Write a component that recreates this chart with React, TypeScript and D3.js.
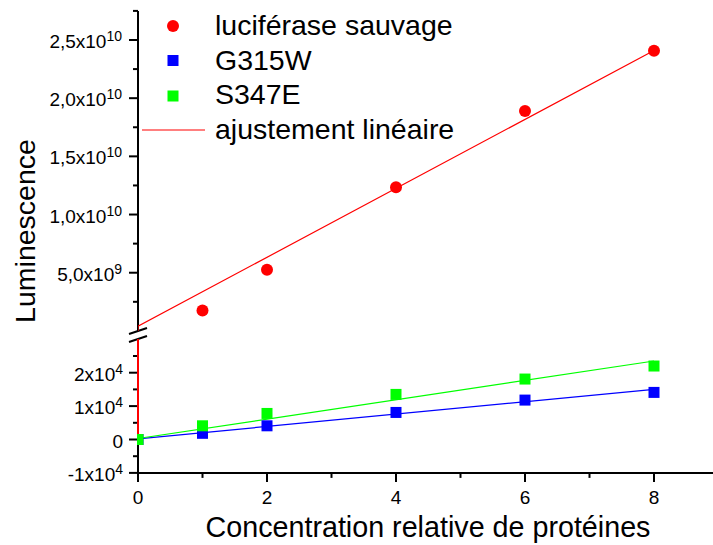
import React from "react";
import * as d3 from "d3";

// ---- data ----
const conc = [1, 2, 4, 6, 8];
const sauvage = [1.75e9, 5.26e9, 1.235e10, 1.89e10, 2.408e10];
const concMut = [0, 1, 2, 4, 6, 8];
const g315w = [0, 0.185e4, 0.41e4, 0.81e4, 1.18e4, 1.41e4];
const s347e = [0, 0.41e4, 0.78e4, 1.35e4, 1.81e4, 2.2e4];
// linear fits (endpoints)
const fitXRed = [0, 0, 8];
const fitRed = [0, 0.4e9, 2.41e10];
const fitX = [0, 8];
const fitBlue = [0.02e4, 1.5e4];
const fitGreen = [0.03e4, 2.35e4];

const xMajor = [0, 2, 4, 6, 8];
const xMinor = [1, 3, 5, 7, 9];
const upMajor = [5e9, 1e10, 1.5e10, 2e10, 2.5e10];
const upLabels = [["5,0x10", "9"], ["1,0x10", "10"], ["1,5x10", "10"], ["2,0x10", "10"], ["2,5x10", "10"]];
const upMinor = [2.5e9, 7.5e9, 1.25e10, 1.75e10, 2.25e10, 2.75e10];
const lowMajor = [-1e4, 0, 1e4, 2e4];
const lowLabels = [["-1x10", "4"], ["0", ""], ["1x10", "4"], ["2x10", "4"]];
const lowMinor = [-0.5e4, 0.5e4, 1.5e4, 2.5e4];

const legendItems = ["luciférase sauvage", "G315W", "S347E", "ajustement linéaire"];

const RED = "#ff0000";
const BLUE = "#0000ff";
const GREEN = "#00ff00";
const FONT = "'Liberation Sans', Arial, Helvetica, sans-serif";

export default function App() {
  const W = 713, H = 545;
  const x = d3.scaleLinear().domain([0, 9]).range([138, 718.5]);
  const yUp = d3.scaleLinear().domain([0, 2.75e10]).range([330.9, 10.9]);
  const yLow = d3.scaleLinear().domain([-1e4, 3e4]).range([472.9, 339.3]);
  const axX = x(0);
  const upTop = yUp(2.75e10);
  const upBot = 331;
  const lowTop = 339;
  const lowBot = yLow(-1e4);

  const lineUp = d3.line<number>().x((_, i) => x(fitXRed[i])).y((d) => yUp(d));
  const lineLowRed = d3.line<number>().x((_, i) => x(fitXRed[i])).y((d) => yLow(d));
  const lineLow = d3.line<number>().x((_, i) => x(fitX[i])).y((d) => yLow(d));

  const sq = 11;

  return (
    <svg
      width={W}
      height={H}
      viewBox={`0 0 ${W} ${H}`}
      style={{ position: "absolute", left: 0, top: 0, background: "#fff" }}
      fontFamily={FONT}
    >
      <defs>
        <clipPath id="clipUp">
          <rect x={axX} y={0} width={W - axX} height={upBot} />
        </clipPath>
        <clipPath id="clipLow">
          <rect x={axX - 1} y={lowTop} width={W - axX + 1} height={lowBot - lowTop} />
        </clipPath>
      </defs>
      <rect x={0} y={0} width={W} height={H} fill="#fff" />

      {/* axes */}
      <g stroke="#000" strokeWidth={2} fill="none">
        <line x1={axX} x2={axX} y1={upTop} y2={upBot} />
        <line x1={axX} x2={axX} y1={lowTop} y2={lowBot + 1} />
        <line x1={axX - 1} x2={W} y1={lowBot} y2={lowBot} />
        {upMajor.map((v) => (
          <line key={"um" + v} x1={axX - 9} x2={axX} y1={yUp(v)} y2={yUp(v)} />
        ))}
        {upMinor.map((v) => (
          <line key={"un" + v} x1={axX - 5} x2={axX} y1={yUp(v)} y2={yUp(v)} />
        ))}
        {lowMajor.map((v) => (
          <line key={"lm" + v} x1={axX - 9} x2={axX} y1={yLow(v)} y2={yLow(v)} />
        ))}
        {lowMinor.map((v) => (
          <line key={"ln" + v} x1={axX - 5} x2={axX} y1={yLow(v)} y2={yLow(v)} />
        ))}
        {xMajor.map((v) => (
          <line key={"xm" + v} x1={x(v)} x2={x(v)} y1={lowBot} y2={lowBot + 9} />
        ))}
        {xMinor.map((v) => (
          <line key={"xn" + v} x1={x(v)} x2={x(v)} y1={lowBot} y2={lowBot + 5} />
        ))}
        {/* break marks */}
        <line x1={129} y1={334} x2={147} y2={328} />
        <line x1={129} y1={342} x2={147} y2={336} />
      </g>

      {/* tick labels */}
      <g fontSize={19} fill="#000">
        {upMajor.map((v, i) => (
          <text key={"ul" + v} x={122} y={yUp(v) + 8} textAnchor="end">
            {upLabels[i][0]}
            <tspan fontSize={14} dy={-7}>{upLabels[i][1]}</tspan>
          </text>
        ))}
        {lowMajor.map((v, i) => (
          <text key={"ll" + v} x={123} y={yLow(v) + 8} textAnchor="end">
            {lowLabels[i][0]}
            {lowLabels[i][1] ? <tspan fontSize={14} dy={-7}>{lowLabels[i][1]}</tspan> : null}
          </text>
        ))}
        {xMajor.map((v) => (
          <text key={"xl" + v} x={x(v)} y={504} textAnchor="middle">
            {String(v)}
          </text>
        ))}
      </g>

      {/* axis titles */}
      <text x={428} y={537} fontSize={28.7} textAnchor="middle" fill="#000">
        Concentration relative de protéines
      </text>
      <text
        transform="translate(35,231) rotate(-90)"
        fontSize={28.5}
        textAnchor="middle"
        fill="#000"
      >
        Luminescence
      </text>

      {/* upper panel */}
      <g clipPath="url(#clipUp)">
        <path d={lineUp(fitRed) || ""} stroke={RED} strokeWidth={1.2} fill="none" />
        {sauvage.map((v, i) => (
          <circle key={"r" + i} cx={x(conc[i])} cy={yUp(v)} r={6} fill={RED} />
        ))}
      </g>

      {/* lower panel */}
      <g clipPath="url(#clipLow)">
        <path d={lineLowRed(fitRed) || ""} stroke={RED} strokeWidth={2} fill="none" />
        <path d={lineLow(fitBlue) || ""} stroke={BLUE} strokeWidth={1.2} fill="none" />
        <path d={lineLow(fitGreen) || ""} stroke={GREEN} strokeWidth={1.2} fill="none" />
        {g315w.map((v, i) => (
          <rect key={"b" + i} x={x(concMut[i]) - sq / 2} y={yLow(v) - sq / 2} width={sq} height={sq} fill={BLUE} />
        ))}
        {s347e.map((v, i) => (
          <rect key={"g" + i} x={x(concMut[i]) - sq / 2} y={yLow(v) - sq / 2} width={sq} height={sq} fill={GREEN} />
        ))}
      </g>

      {/* legend */}
      <circle cx={173} cy={26} r={6} fill={RED} />
      <rect x={173 - 5.5} y={60.5 - 5.5} width={11} height={11} fill={BLUE} />
      <rect x={173 - 5.5} y={96 - 5.5} width={11} height={11} fill={GREEN} />
      <line x1={142} x2={205} y1={130} y2={130} stroke={RED} strokeWidth={1.2} />
      <g fontSize={28.5} fill="#000">
        {legendItems.map((t, i) => (
          <text key={t} x={215} y={35 + i * 34.6}>
            {t}
          </text>
        ))}
      </g>
    </svg>
  );
}
